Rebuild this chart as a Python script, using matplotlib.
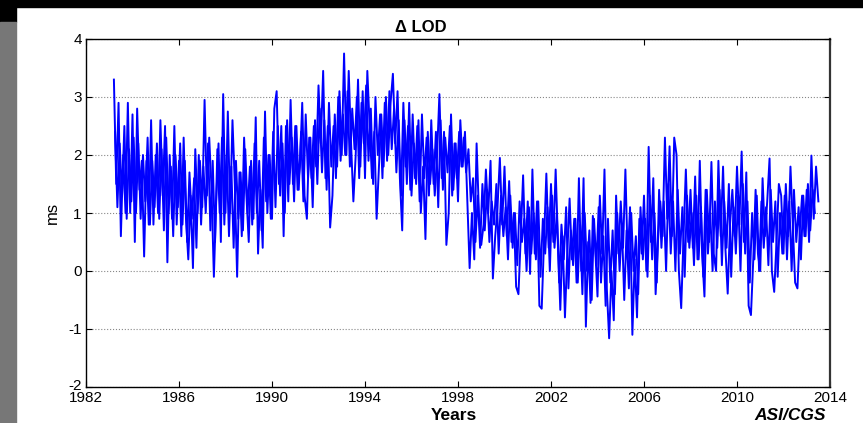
import matplotlib.pyplot as plt
import numpy as np
from matplotlib.patches import Rectangle
from matplotlib.transforms import ScaledTranslation

plt.rcParams['font.family'] = ['Liberation Sans', 'DejaVu Sans']
plt.rcParams['axes.unicode_minus'] = False

# Delta LOD (ms): outer swings every 0.1 yr from 1983.2
start_year = 1983.2
step = 0.1
lod = [
    3.3, 1.5, 2.9, 0.6, 2.0, 1.0, 2.9, 1.0, 2.7, 0.5,
    2.8, 1.4, 1.9, 0.25, 1.9, 0.8, 2.6, 0.8, 2.0, 1.0,
    2.6, 1.3, 2.5, 0.15, 2.0, 0.9, 2.5, 0.8, 1.9, 0.6,
    2.3, 0.9, 0.2, 1.3, 0.05, 2.1, 1.0, 1.9, 1.1, 2.95,
    1.3, 2.3, 1.4, -0.1, 1.2, 2.2, 0.5, 3.05, 1.0, 2.75,
    1.0, 2.6, 1.5, -0.1, 1.7, 0.6, 2.3, 1.3, 0.5, 1.9,
    0.9, 2.65, 0.3, 1.4, 0.4, 2.75, 1.0, 2.0, 0.9, 2.8,
    3.1, 1.5, 2.5, 0.6, 2.5, 1.2, 2.95, 1.5, 2.5, 1.4,
    1.8, 2.9, 1.3, 0.9, 2.3, 1.6, 2.5, 1.8, 3.2, 2.2,
    3.45, 1.6, 2.5, 0.75, 1.3, 2.7, 1.8, 3.1, 2.0, 3.75,
    2.0, 3.45, 2.2, 1.2, 2.0, 3.3, 1.8, 3.1, 1.6, 3.45,
    2.5, 1.6, 2.4, 0.9, 1.8, 2.7, 1.8, 3.0, 2.0, 2.9,
    3.4, 2.2, 3.1, 1.6, 0.7, 2.6, 1.5, 2.9, 1.3, 2.2,
    1.5, 2.6, 1.0, 1.8, 0.55, 2.4, 1.5, 2.1, 1.3, 2.0,
    3.05, 1.6, 2.4, 0.45, 1.0, 2.7, 1.4, 2.2, 1.2, 2.6,
    1.8, 2.4, 1.2, 0.05, 1.0, 0.2, 2.2, 1.0, 0.45, 0.8,
    1.75, 1.0, 1.9, -0.13, 0.6, 1.1, 1.95, 0.8, 1.8, 0.6,
    1.55, 0.5, 1.0, -0.27, -0.4, 0.6, 1.65, 0.3, 1.2, -0.05,
    1.75, 0.3, 1.2, -0.6, -0.65, 0.5, 1.68, 0.4, 1.5, 0.5,
    1.75, 0.5, -0.67, 0.6, -0.8, 0.3, 1.25, 0.2, 0.9, -0.2,
    1.6, 0.0, 1.6, -0.96, 0.5, -0.55, 0.95, 0.4, -0.44, 1.3,
    0.3, 1.75, -0.3, -1.16, 0.0, -0.85, 1.3, 0.3, 1.2, 0.4,
    1.75, 0.2, 1.1, -1.1, 0.2, -0.8, 0.9, 0.3, 1.3, 0.0,
    2.14, 0.5, 1.6, -0.4, 0.5, 1.2, 0.6, 2.3, 0.9, 2.15,
    0.6, 2.3, 2.0, 0.0, -0.64, 0.6, 1.75, 0.5, 1.4, 0.4,
    1.63, 0.2, 1.9, 0.3, -0.44, 1.4, 0.5, 1.88, 0.3, 0.0,
    1.9, 0.6, 1.8, 0.4, -0.39, 0.8, 1.4, 0.6, 1.8, 0.8,
    2.06, 0.5, 1.7, -0.6, -0.76, 0.2, 1.4, 0.3, 0.0, 1.6,
    0.6, 1.2, 1.94, 0.0, -0.36, 0.5, 1.5, 1.3, 0.3, 1.5,
    0.6, 1.8, 0.8, -0.2, -0.3, 0.7, 1.3, 0.6, 1.4, 0.5,
    1.99, 0.9, 1.8, 1.2,
]

# inner (core band) swings, read at the half steps from 1983.25
start_year_b = 1983.25
lod_b = [
    2.4, 1.1, 2.2, 1.3, 2.5, 0.9, 2.1, 1.2, 2.3, 1.0,
    2.2, 0.9, 2.0, 1.2, 2.3, 0.8, 1.9, 1.1, 2.2, 0.9,
    2.1, 0.7, 2.3, 1.0, 1.8, 0.6, 2.0, 1.1, 2.2, 0.8,
    1.9, 0.5, 1.7, 0.9, 1.6, 0.4, 2.0, 0.8, 1.8, 1.0,
    2.2, 0.7, 1.9, 0.5, 2.1, 1.0, 2.3, 0.8, 2.0, 0.6,
    1.8, 0.4, 1.9, 0.9, 1.7, 0.7, 2.1, 1.0, 1.8, 0.8,
    2.2, 1.0, 1.9, 0.7, 2.3, 1.2, 2.0, 0.9, 2.4, 1.1,
    2.5, 1.3, 2.2, 1.0, 2.6, 1.5, 2.3, 1.2, 2.5, 1.4,
    2.4, 1.2, 2.7, 1.6, 2.3, 1.1, 2.6, 1.5, 2.8, 1.7,
    2.6, 1.4, 2.9, 1.8, 2.5, 1.6, 3.0, 1.9, 2.7, 2.0,
    3.1, 1.8, 2.8, 2.1, 3.0, 1.6, 2.9, 2.2, 3.2, 1.9,
    2.8, 1.5, 3.0, 2.0, 2.7, 1.6, 2.9, 1.9, 3.1, 2.1,
    2.8, 1.7, 2.6, 1.3, 2.9, 1.8, 2.5, 1.4, 2.7, 1.6,
    2.5, 1.2, 2.7, 1.6, 2.3, 1.3, 2.6, 1.5, 2.4, 1.1,
    2.6, 1.4, 2.3, 1.7, 2.5, 1.3, 2.2, 1.6, 2.4, 1.8,
    2.3, 1.7, 2.1, 1.2, 1.6, 0.5, 1.3, 0.4, 1.5, 0.7,
    1.4, 0.5, 1.2, 0.8, 1.5, 0.3, 1.3, 0.6, 1.1, 0.2,
    1.3, 0.4, 1.0, 0.1, 1.2, 0.5, 0.9, 0.0, 1.1, 0.3,
    1.0, 0.2, 1.2, -0.1, 0.9, 0.3, 1.1, 0.0, 1.3, 0.4,
    1.0, -0.2, 0.8, 0.2, 1.1, -0.3, 0.7, 0.1, 0.9, -0.2,
    0.8, -0.4, 1.0, 0.0, 0.7, -0.5, 0.9, 0.1, 1.1, -0.2,
    0.6, -0.6, 0.9, -0.2, 0.7, -0.4, 1.0, 0.0, 0.8, -0.5,
    0.7, -0.3, 1.0, 0.0, 0.6, -0.4, 1.1, 0.2, 0.9, -0.1,
    1.3, 0.2, 1.0, -0.2, 1.4, 0.4, 1.2, 0.0, 1.5, 0.3,
    1.2, 0.0, 1.4, 0.3, 1.1, -0.1, 1.3, 0.4, 1.0, 0.1,
    1.3, 0.2, 1.1, -0.1, 1.4, 0.3, 1.0, 0.0, 1.2, 0.4,
    1.4, 0.1, 1.2, 0.4, 1.5, -0.1, 1.1, 0.3, 1.3, 0.0,
    1.5, 0.3, 1.2, -0.2, 1.0, 0.2, 1.3, 0.0, 1.2, 0.4,
    1.1, 0.1, 1.4, 0.5, 1.2, -0.1, 1.0, 0.3, 1.3, 0.2,
    1.2, 0.0, 1.4, 0.5, 1.1, 0.2, 1.3, 0.6, 1.5, 0.7,
    1.4, 1.0,
]

years = start_year + step * np.arange(len(lod))
years_b = start_year_b + step * np.arange(len(lod_b))

xticks = [1982, 1986, 1990, 1994, 1998, 2002, 2006, 2010, 2014]
yticks = [-2, -1, 0, 1, 2, 3, 4]

fig = plt.figure(figsize=(8.63, 4.23), dpi=100)
fig.patch.set_facecolor('white')

# frame bits around the screenshot
fig.patches.append(Rectangle((0, 1 - 7/423), 1, 7/423, transform=fig.transFigure,
                             color='black', zorder=0))
fig.patches.append(Rectangle((0, 1 - 22/423), 16/863, 22/423, transform=fig.transFigure,
                             color='black', zorder=0))
fig.patches.append(Rectangle((0, 0), 16/863, 1 - 22/423, transform=fig.transFigure,
                             color='#777777', zorder=0))

ax = fig.add_axes([86/863, 36/423, 744/863, 348/423])
ax.plot(years, lod, color='#0000ff', linewidth=1.4)
ax.plot(years_b, lod_b, color='#0000ff', linewidth=1.4)

ax.set_xlim(1982, 2014)
ax.set_ylim(-2, 4)
ax.set_xticks(xticks)
ax.set_yticks(yticks)
ax.tick_params(direction='in', length=4, top=True, right=True, labelsize=11, pad=3)
for s in ax.spines.values():
    s.set_linewidth(1.0)
ax.spines['right'].set_linewidth(1.6)
ax.spines['right'].set_color('#333333')
ax.yaxis.grid(True, linestyle=':', color='#888888', linewidth=0.8)
ax.set_axisbelow(True)

# lift the "-2" label a little so it does not sit on "1982"
lbl = ax.get_yticklabels()[0]
lbl.set_transform(lbl.get_transform() + ScaledTranslation(0, 3/100, fig.dpi_scale_trans))

ax.set_ylabel('ms', fontsize=12, labelpad=6)
fig.text(421/863, 1 - 27/423, '\u0394 LOD', fontsize=12, fontweight='bold',
         ha='center', va='center')
fig.text(454/863, 1 - 415/423, 'Years', fontsize=12.5, fontweight='bold',
         ha='center', va='center')
fig.text(790/863, 1 - 415/423, 'ASI/CGS', fontsize=12.5, fontweight='bold',
         style='italic', ha='center', va='center')

plt.savefig('out.png', dpi=100)
